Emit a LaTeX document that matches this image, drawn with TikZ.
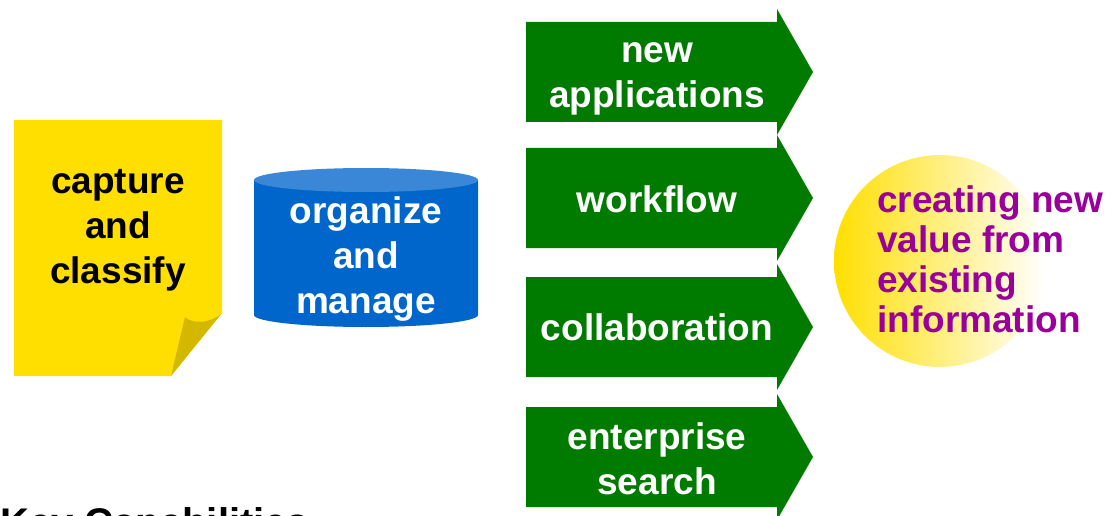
\documentclass[tikz,border=0pt]{standalone}
\usepackage{fontspec}
\setmainfont{Liberation Sans}
\definecolor{noteyellow}{HTML}{FFDF00}
\definecolor{curlyellow}{HTML}{D4B800}
\definecolor{cylblue}{HTML}{0066CC}
\definecolor{cyltop}{HTML}{3A87D8}
\definecolor{arrowgreen}{HTML}{007B00}
\definecolor{valpurple}{HTML}{990099}
\tikzset{
  bigtext/.style={font=\fontsize{37}{45}\selectfont\bfseries, align=center, inner sep=0pt},
  arrowtext/.style={bigtext, text=white},
  greenarrow/.style={fill=arrowgreen, draw=none},
}
\newcommand{\greenarrowpath}[1]{%
  \fill[greenarrow] (526,#1-50) -- (777,#1-50) -- (777,#1-63) -- (813,#1) -- (777,#1+63) -- (777,#1+50) -- (526,#1+50) -- cycle;}
\begin{document}
\begin{tikzpicture}[x=1pt,y=-1pt]
\useasboundingbox (0,0) rectangle (1116,516);
% note
\fill[noteyellow] (14,120) -- (222,120) -- (222,313) -- (171,376) -- (14,376) -- cycle;
\fill[curlyellow] (171,376) -- (185,317) .. controls (192,324) and (210,324) .. (222,313) -- cycle;
\node[bigtext] (capture) at (118,230) {capture\\and\\classify};
% cylinder
\fill[cylblue] (254,180) -- (254,315) arc[start angle=180, end angle=360, x radius=112, y radius=-12] -- (478,180) -- cycle;
\fill[cyltop] (366,180) ellipse[x radius=112, y radius=12];
\node[bigtext, text=white] (organize) at (366,259) {organize\\and\\manage};
% arrows
\greenarrowpath{72}
\greenarrowpath{198}
\greenarrowpath{327}
\greenarrowpath{457}
\node[arrowtext] (newapp) at (657,79) {new\\applications};
\node[arrowtext] (workflow) at (657,199) {workflow};
\node[arrowtext] (collab) at (657,327) {collaboration};
\node[arrowtext] (search) at (657,459) {enterprise\\search};
% circle
\shade[left color=noteyellow, middle color=noteyellow!14!white, right color=white] (940,261) circle[radius=106];
\node[font=\fontsize{37}{40}\selectfont\bfseries, text=valpurple, align=left, anchor=west, inner sep=0pt] (value) at (877,259) {creating new\\value from\\existing\\information};
% key capabilities
\node[font=\fontsize{40}{48}\selectfont\bfseries, anchor=base west, inner sep=0pt] (key) at (0,536) {Key Capabilities};
\end{tikzpicture}
\end{document}
